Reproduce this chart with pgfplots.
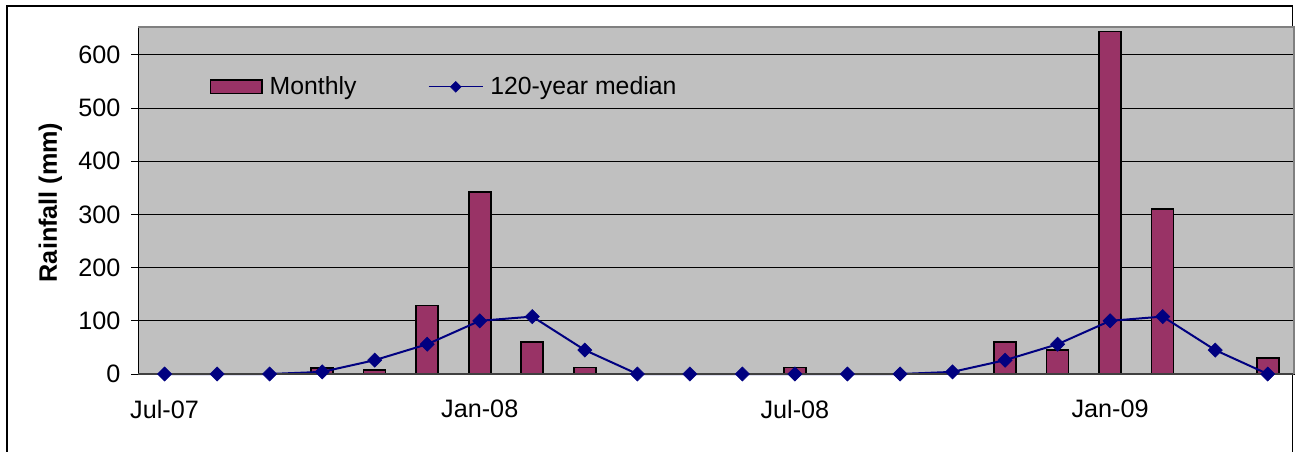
\documentclass[border=0pt]{standalone}
\usepackage{pgfplots}
\pgfplotsset{compat=1.18}
\usepackage{fontspec}
\setmainfont{Liberation Sans}
\definecolor{barplum}{HTML}{993366}
\definecolor{navyline}{HTML}{000080}
\definecolor{plotbg}{HTML}{C0C0C0}
\pgfplotsset{
  barlegend/.style={legend image code/.code={\draw[##1] (0pt,-3.4pt) rectangle (25.6pt,3.4pt);}},
  linelegend/.style={legend image code/.code={\draw[##1, line width=0.6pt, mark size=1.9pt, mark repeat=2, mark phase=2]
    plot coordinates {(0pt,0pt) (13.5pt,0pt) (27pt,0pt)};}},
}
\begin{document}
\begin{tikzpicture}
% page = 1295 x 451 px at 0.5pt per px, axis origin at its lower left corner
\useasboundingbox (-69.15pt,-38.5pt) rectangle (578.35pt,187pt);
\draw[line width=0.7pt] (-65.65pt,-40pt) -- (-65.65pt,184pt) -- (577.1pt,184pt) -- (577.1pt,-40pt);
\begin{axis}[
  at={(0,0)}, anchor=south west,
  scale only axis,
  width=577.85pt, height=173.35pt,
  axis background/.style={fill=plotbg},
  axis line style={draw=none},
  xmin=-0.5, xmax=21.5,
  ymin=0, ymax=652,
  ytick={0,100,...,600},
  xtick={0,6,12,18},
  xticklabels={Jul-07,Jan-08,Jul-08,Jan-09},
  major x tick style={draw=none},
  extra x ticks={-0.5,5.5,11.5,17.5},
  extra x tick labels={},
  extra x tick style={major tick length=3.5pt, tick align=outside, major tick style={black, line width=0.5pt}},
  ymajorgrids=true,
  major grid style={black, line width=0.5pt},
  y tick style={black, line width=0.5pt},
  tick align=outside,
  major tick length=3.5pt,
  /pgf/number format/assume math mode=true,
  tick label style={font=\fontsize{12.6}{14}\selectfont},
  yticklabel style={inner sep=0pt, xshift=-5.3pt},
  xticklabel style={inner sep=0pt, anchor=north, yshift=-9.3pt},
  ylabel={\bfseries Rainfall (mm)},
  ylabel style={font=\fontsize{12.6}{14}\selectfont, at={(axis description cs:-0.0655,0.495)}, anchor=south, inner sep=0pt},
  legend columns=2,
  legend style={at={(axis description cs:0.0616,0.8283)}, anchor=west, draw=none, fill=none,
    font=\fontsize{12.4}{14}\selectfont, inner sep=0pt,
    /tikz/every odd column/.append style={column sep=1.5pt},
    /tikz/every even column/.append style={column sep=33.8pt}},
  clip=false,
]
\addplot[ybar, bar width=11pt, fill=barplum, draw=black, line width=0.8pt, barlegend]
  coordinates {
  (0,0) (1,0) (2,0) (3,11) (4,8) (5,129) (6,342) (7,60) (8,12) (9,0) (10,0)
  (11,0) (12,12) (13,0) (14,0) (15,0) (16,60) (17,45) (18,644) (19,310) (20,0) (21,30)
  };
\addlegendentry{Monthly}
\addplot[color=navyline, line width=1pt, mark=square*, mark size=2.5pt,
  mark options={rotate=45, fill=navyline, draw=navyline, line width=0.3pt}, linelegend]
  coordinates {
  (0,0) (1,0) (2,0) (3,4) (4,26) (5,56) (6,100) (7,108) (8,45) (9,0) (10,0)
  (11,0) (12,0) (13,0) (14,0) (15,4) (16,26) (17,56) (18,100) (19,108) (20,45) (21,0)
  };
\addlegendentry{120-year median}
\draw[black, line width=0.75pt] (rel axis cs:0,0) -- (rel axis cs:0,1);
\draw[black!75, line width=0.9pt] (rel axis cs:0,0) -- (rel axis cs:1,0);
\draw[black!50, line width=1pt] (rel axis cs:0,1) -- (rel axis cs:1,1) -- (rel axis cs:1,0);
\end{axis}
\end{tikzpicture}
\end{document}
